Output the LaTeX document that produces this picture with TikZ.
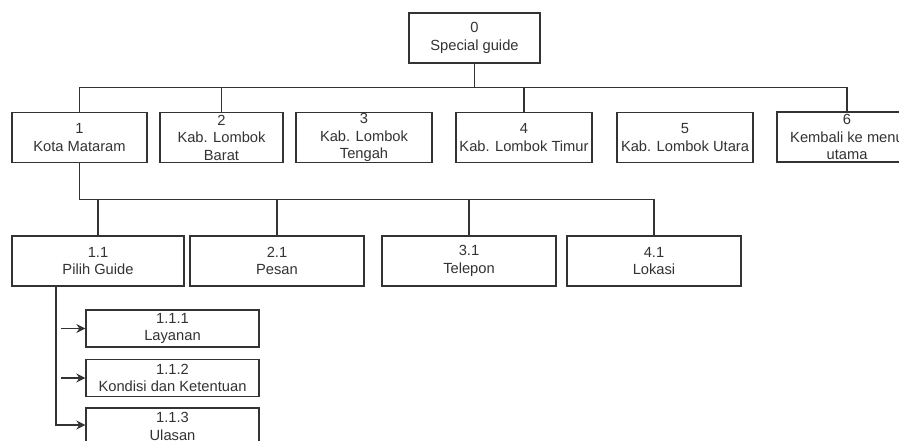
\documentclass[tikz,border=0pt]{standalone}
\usepackage{fontspec}
\setmainfont{Liberation Sans}
\usetikzlibrary{arrows.meta}
\definecolor{edge}{HTML}{333333}
\definecolor{txt}{HTML}{333333}
\begin{document}
\begin{tikzpicture}[x=1pt,y=-1pt,
  menubox/.style={draw=edge,line width=1.3pt,fill=white,inner sep=0pt,
    minimum height=50,align=center,text=txt,
    font=\fontsize{14.7}{17.5}\selectfont},
  subbox/.style={menubox,minimum height=37},
  link/.style={draw=edge,line width=1.3pt},
  arrowlink/.style={link,-{Stealth[length=9pt,width=9pt]}}]
\useasboundingbox (0,0) rectangle (899,440);
\clip (0,0) rectangle (899,440);

% root
\node[menubox,minimum width=131] (n0) at (474.5,38) {0\\Special guide};

% first level
\node[menubox,minimum width=135] (n1) at (79.5,137.5) {1\\Kota Mataram};
\node[menubox,minimum width=123] (n2) at (221.5,137.5) {2\\Kab. Lombok\\Barat};
\node[menubox,minimum width=136] (n3) at (364,137.5) {3\\Kab. Lombok\\Tengah};
\node[menubox,minimum width=136] (n4) at (524,137.5) {4\\Kab. Lombok Timur};
\node[menubox,minimum width=136] (n5) at (685,137.5) {5\\Kab. Lombok Utara};
\node[menubox,minimum width=140] (n6) at (847,137) {6\\Kembali ke menu\\utama};

% second level
\node[menubox,minimum width=172] (n11) at (98,261) {1.1\\Pilih Guide};
\node[menubox,minimum width=174] (n21) at (277,261) {2.1\\Pesan};
\node[menubox,minimum width=174] (n31) at (469,261) {3.1\\Telepon};
\node[menubox,minimum width=174] (n41) at (654,261) {4.1\\Lokasi};

% third level
\node[subbox,minimum width=173] (n111) at (172.5,328.5) {1.1.1\\Layanan};
\node[subbox,minimum width=173] (n112) at (172.5,378) {1.1.2\\Kondisi dan Ketentuan};
\node[subbox,minimum width=173] (n113) at (172.5,426.5) {1.1.3\\Ulasan};

% root to first level
\draw[link] (n0.south) -- ++(0,24) -| (n1.north);
\draw[link] (n0.south) -- ++(0,24) -| (n2.north);
\draw[link] (n0.south) -- ++(0,24) -| (n4.north);
\draw[link] (n0.south) -- ++(0,24) -| (n6.north);

% Kota Mataram to second level
\draw[link] (n1.south) -- ++(0,36) -| (n11.north);
\draw[link] (n1.south) -- ++(0,36) -| (n21.north);
\draw[link] (n1.south) -- ++(0,36) -| (n31.north);
\draw[link] (n1.south) -- ++(0,36) -| (n41.north);

% Pilih Guide to third level
\coordinate (a1) at (61,328.5);
\coordinate (a2) at (61,378);
\draw[arrowlink] (a1) -- (n111.west);
\draw[arrowlink] (a2) -- (n112.west);
\draw[arrowlink] ([xshift=-42pt]n11.south) |- ([yshift=1.5pt]n113.west);
\end{tikzpicture}
\end{document}
